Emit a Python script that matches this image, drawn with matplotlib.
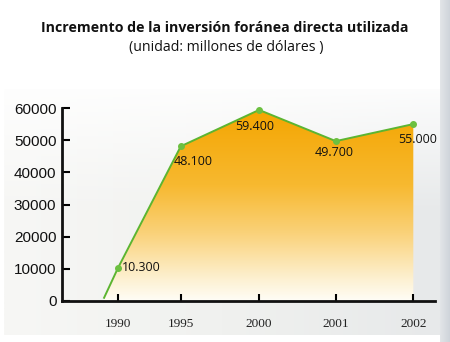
import matplotlib
matplotlib.use("Agg")
import matplotlib.pyplot as plt
import numpy as np
from matplotlib.colors import LinearSegmentedColormap
from matplotlib.patches import Polygon

# --- data ---
years = ["1990", "1995", "2000", "2001", "2002"]
values = [10300, 48100, 59400, 49700, 55000]
labels = ["10.300", "48.100", "59.400", "49.700", "55.000"]
start_value = 1000  # line starts just above zero before 1990

# category positions (uneven spacing as in the printed chart)
xpos = [1.0, 1.81, 2.82, 3.81, 4.81]
start_x = 0.82

title = "Incremento de la inversión foránea directa utilizada"
subtitle = "(unidad: millones de dólares )"

fig = plt.figure(figsize=(4.5, 3.42), dpi=100)
fig.patch.set_facecolor("white")

# light grey printed band behind the chart
bg = fig.add_axes([4 / 450, 1 - 335 / 342, 436 / 450, 246 / 342])
grad = np.linspace(0, 1, 256).reshape(1, -1)
bg_cmap = LinearSegmentedColormap.from_list("bg", ["#f7f7f5", "#f0f1ef", "#e7e9ea"])
bg.imshow(grad, aspect="auto", cmap=bg_cmap, extent=[0, 1, 0, 1])
vgrad = np.linspace(0, 1, 256).reshape(-1, 1)
bg.imshow(vgrad, aspect="auto", cmap=LinearSegmentedColormap.from_list(
    "fade", [(1, 1, 1, 0.9), (1, 1, 1, 0.0), (1, 1, 1, 0.0)]), extent=[0, 1, 0, 1])
bg.axis("off")

# grey scan shadow at the right edge of the page
edge = fig.add_axes([440 / 450, 0, 10 / 450, 1])
edge.imshow(grad, aspect="auto", cmap=LinearSegmentedColormap.from_list(
    "edge", ["#e2e5e8", "#cfd4da"]), extent=[0, 1, 0, 1])
edge.axis("off")

ax = fig.add_axes([62 / 450, 1 - 301 / 342, 373 / 450, 193 / 342])
ax.set_facecolor("none")
ax.set_xlim(0.277, 5.09)
ax.set_ylim(0, 60000)

xs = [start_x] + xpos
ys = [start_value] + values

# orange gradient fill under the line
poly_pts = list(zip(xs, ys)) + [(xpos[-1], 0), (start_x, 0)]
poly = Polygon(poly_pts, closed=True, facecolor="none", edgecolor="none")
ax.add_patch(poly)
fill_cmap = LinearSegmentedColormap.from_list(
    "fill", [(0.0, "#fffdf6"), (0.12, "#fdf0cf"), (0.35, "#fad27a"),
             (0.6, "#f7b930"), (1.0, "#f4a500")])
img = ax.imshow(np.linspace(0, 1, 256).reshape(-1, 1), aspect="auto", cmap=fill_cmap,
                origin="lower", extent=[start_x, xpos[-1], 0, 60000], zorder=1)
img.set_clip_path(poly)

ax.plot(xs, ys, color="#5cb531", lw=1.4, zorder=3, clip_on=False)
ax.plot(xpos, values, "o", color="#6cc040", ms=4, zorder=4, clip_on=False)

offsets = [(3, 0, "left", "center"), (-5, -11, "left", "center"),
           (-3, -12, "center", "center"), (-1, -8, "center", "center"),
           (3, -11, "center", "center")]
for x, v, lab, (dx, dy, ha, va) in zip(xpos, values, labels, offsets):
    ax.annotate(lab, (x, v), xytext=(dx, dy), textcoords="offset points",
                ha=ha, va=va, fontsize=9, family="Open Sans", color="#111111", zorder=5)

ax.set_xticks(xpos)
ax.set_xticklabels(years, family="Liberation Serif", fontsize=9.5, color="#222222")
ax.set_yticks(range(0, 60001, 10000))
ax.set_yticklabels([str(t) for t in range(0, 60001, 10000)],
                   family="Liberation Sans", fontsize=11, color="#111111")
ax.tick_params(axis="x", direction="in", length=5, width=1.5, pad=12)
ax.tick_params(axis="y", direction="in", length=6, width=1.5, pad=4)
for side in ["top", "right"]:
    ax.spines[side].set_visible(False)
for side in ["left", "bottom"]:
    ax.spines[side].set_linewidth(2)
    ax.spines[side].set_color("#111111")

fig.text(0.499, 1 - 28 / 342, title, ha="center", va="center",
         fontsize=10.2, fontweight="bold", family="Open Sans", color="#111111")
fig.text(0.502, 1 - 48 / 342, subtitle, ha="center", va="center",
         fontsize=10.2, family="Open Sans", color="#111111")

fig.savefig("out.png", dpi=100)
